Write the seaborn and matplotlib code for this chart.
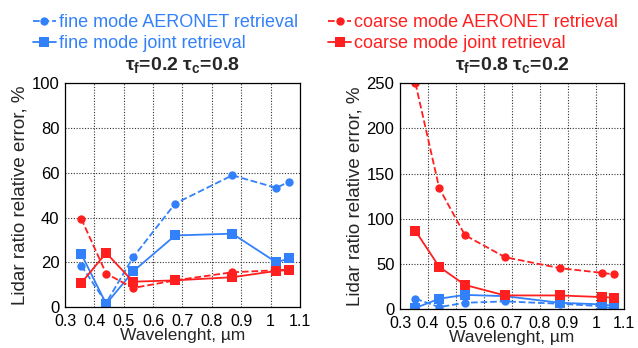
import numpy as np
import pandas as pd
import matplotlib
matplotlib.use("Agg")
import matplotlib.pyplot as plt
import seaborn as sns

wavelength = [0.355, 0.44, 0.532, 0.675, 0.87, 1.02, 1.064]

# Left panel: tau_f=0.2 tau_c=0.8
left_fine_aeronet = [18.6, 2.0, 22.3, 46.2, 58.8, 53.2, 56.0]
left_fine_joint = [23.8, 1.5, 16.0, 32.0, 32.8, 20.0, 21.8]
left_coarse_aeronet = [39.5, 15.0, 8.6, 12.0, 15.6, 16.5, 16.8]
left_coarse_joint = [10.8, 24.2, 11.4, 12.0, 13.4, 16.2, 16.6]

# Right panel: tau_f=0.8 tau_c=0.2
right_fine_aeronet = [11.8, 2.5, 7.3, 8.8, 6.2, 3.5, 0.5]
right_fine_joint = [1.5, 11.8, 16.0, 14.6, 7.3, 5.5, 3.7]
right_coarse_aeronet = [250.0, 134.0, 82.0, 57.7, 45.6, 40.4, 38.6]
right_coarse_joint = [86.8, 47.0, 27.0, 15.4, 15.4, 13.6, 12.9]

labels = ["fine mode AERONET retrieval", "fine mode joint retrieval",
          "coarse mode AERONET retrieval", "coarse mode joint retrieval"]
xticks = [0.3, 0.4, 0.5, 0.6, 0.7, 0.8, 0.9, 1.0, 1.1]
xticklabels = ["0.3", "0.4", "0.5", "0.6", "0.7", "0.8", "0.9", "1", "1.1"]

sns.set_theme(style="white")
plt.rcParams["font.family"] = ["Liberation Sans", "DejaVu Sans"]
plt.rcParams["mathtext.fontset"] = "custom"
plt.rcParams["mathtext.rm"] = "Liberation Sans"

BLUE = "#3381FA"
RED = "#FF1F1F"

fig = plt.figure(figsize=(6.38, 3.48), dpi=100)
ax1 = fig.add_axes([0.102, 0.117, 0.368, 0.645])
ax2 = fig.add_axes([0.627, 0.111, 0.351, 0.650])

def draw(ax, series, ymax, yticks, title):
    styles = [(BLUE, "o", "--"), (BLUE, "s", "-"), (RED, "o", "--"), (RED, "s", "-")]
    for vals, (c, m, ls), lab in zip(series, styles, labels):
        df = pd.DataFrame({"wl": wavelength, "v": vals})
        sns.lineplot(data=df, x="wl", y="v", ax=ax, color=c, marker=m,
                     linestyle=ls, linewidth=1.3, markersize=6.5 if m == "s" else 6,
                     markeredgewidth=0, label=lab, legend=False)
    ax.set_xlim(0.3, 1.1)
    ax.set_ylim(0, ymax)
    ax.set_xticks(xticks)
    ax.set_xticklabels(xticklabels)
    ax.set_yticks(yticks)
    ax.grid(True, color="#333333", linestyle=(0, (1, 1.5)), linewidth=0.8)
    for s in ax.spines.values():
        s.set_color("black")
        s.set_linewidth(0.9)
    ax.tick_params(axis="both", length=0, colors="black")
    ax.tick_params(axis="x", pad=5, labelsize=11.5)
    ax.tick_params(axis="y", pad=4, labelsize=12)
    ax.set_xlabel("Wavelenght, µm", fontsize=12.5, labelpad=-1)
    ax.set_ylabel("Lidar ratio relative error, %", fontsize=13.5, labelpad=2)
    ax.set_title(title, fontsize=14, fontweight="bold", pad=9)

draw(ax1, [left_fine_aeronet, left_fine_joint, left_coarse_aeronet, left_coarse_joint],
     100, [0, 20, 40, 60, 80, 100],
     r"τ$_\mathregular{f}$=0.2 τ$_\mathregular{c}$=0.8")
draw(ax2, [right_fine_aeronet, right_fine_joint, right_coarse_aeronet, right_coarse_joint],
     250, [0, 50, 100, 150, 200, 250],
     r"τ$_\mathregular{f}$=0.8 τ$_\mathregular{c}$=0.2")

h, l = ax1.get_legend_handles_labels()
leg1 = fig.legend(h[:2], l[:2], loc="upper left", bbox_to_anchor=(0.034, 0.99),
                  frameon=False, fontsize=13, handlelength=1.3, handletextpad=0.15,
                  labelspacing=0.2, labelcolor="linecolor", borderaxespad=0.2)
leg2 = fig.legend(h[2:], l[2:], loc="upper left", bbox_to_anchor=(0.497, 0.99),
                  frameon=False, fontsize=13, handlelength=1.3, handletextpad=0.15,
                  labelspacing=0.2, labelcolor="linecolor", borderaxespad=0.2)

fig.savefig("out.png", dpi=100)
